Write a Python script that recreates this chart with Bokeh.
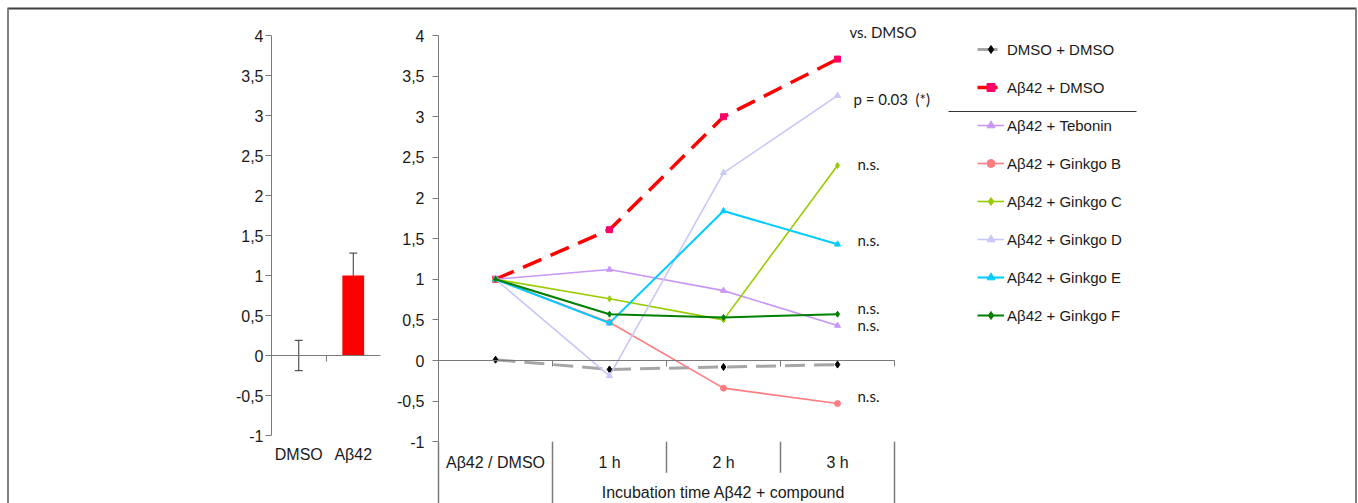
from bokeh.plotting import figure
from bokeh.models import (Range1d, LinearAxis, FixedTicker, CustomJSTickFormatter,
                          ColumnDataSource, Whisker, TeeHead, Legend, LegendItem)
from bokeh.core.properties import value
from bokeh.embed import file_html
from bokeh.resources import INLINE

# ---------------- data ----------------
bar_categories = ["DMSO", "Aβ42"]
bar_values = [0.0, 1.0]
bar_errors = [0.19, 0.28]

time_categories = ["Aβ42 / DMSO", "1 h", "2 h", "3 h"]
time_group_label = "Incubation time Aβ42 + compound"
time_group_span = (1, 4)  # group covers categories 1..3

y_ticks = [-1, -0.5, 0, 0.5, 1, 1.5, 2, 2.5, 3, 3.5, 4]

series_names = ["DMSO + DMSO", "Aβ42 + DMSO", "Aβ42 + Tebonin", "Aβ42 + Ginkgo B",
                "Aβ42 + Ginkgo C", "Aβ42 + Ginkgo D", "Aβ42 + Ginkgo E", "Aβ42 + Ginkgo F"]
dmso_dmso = [0.01, -0.11, -0.08, -0.05]
abeta_dmso = [1.0, 1.61, 3.0, 3.71]
tebonin = [1.0, 1.12, 0.86, 0.43]
ginkgo_b = [1.0, 0.47, -0.34, -0.53]
ginkgo_c = [1.0, 0.76, 0.50, 2.40]
ginkgo_d = [1.0, -0.19, 2.31, 3.26]
ginkgo_e = [1.0, 0.46, 1.84, 1.43]
ginkgo_f = [1.0, 0.57, 0.53, 0.57]
series_values = [dmso_dmso, abeta_dmso, tebonin, ginkgo_b, ginkgo_c, ginkgo_d, ginkgo_e, ginkgo_f]

annot_texts = ["vs. DMSO", "p = 0.03\u00a0\u00a0(*)", "n.s.", "n.s.", "n.s.", "n.s.", "n.s."]
annot_values = [4.04, 3.22, 2.42, 1.48, 0.65, 0.44, -0.44]

# ---------------- styles ----------------
series_styles = [
    dict(color="#A6A6A6", width=3.0, dash="20 9", marker="diamond", msize=7, mcolor="#000000"),
    dict(color="#FF0000", width=3.5, dash="20 10", marker="square", msize=6, mcolor="#FF0066"),
    dict(color="#C896F4", width=1.6, dash="solid", marker="triangle", msize=6, mcolor="#C896F4"),
    dict(color="#FF7C80", width=1.6, dash="solid", marker="circle", msize=6, mcolor="#FF7C80"),
    dict(color="#99CC00", width=1.6, dash="solid", marker="diamond", msize=6, mcolor="#99CC00"),
    dict(color="#C8C8F8", width=1.6, dash="solid", marker="triangle", msize=6, mcolor="#C8C8F8"),
    dict(color="#00CCFF", width=2.0, dash="solid", marker="triangle", msize=6, mcolor="#00CCFF"),
    dict(color="#008000", width=2.0, dash="solid", marker="diamond", msize=6, mcolor="#008000"),
]
annot_offsets = [12, 16, 20, 20, 20, 20, 20]

TXT = "#1a1a1a"
AXC = "#7a7a7a"
FONT = "Liberation Sans"

# ---------------- layout (canvas px; canvas == window) ----------------
W, H = 1358, 503
L_AXIS_X, L_Y4, L_PPU, L_CAT_W = 271, 35, 80.0, 54.5
M_AXIS_X, M_Y4, M_PPU, M_CAT_W = 438, 35, 81.25, 114.0

p = figure(width=W, height=H, x_range=Range1d(0, W), y_range=Range1d(H, 0),
           x_axis_type=None, y_axis_type=None, toolbar_location=None,
           output_backend="svg", min_border=0)
p.outline_line_color = None
p.background_fill_color = "white"
p.border_fill_color = "white"

p.extra_x_ranges = {
    "L": Range1d(-L_AXIS_X / L_CAT_W, (W - L_AXIS_X) / L_CAT_W),
    "M": Range1d(-M_AXIS_X / M_CAT_W, (W - M_AXIS_X) / M_CAT_W),
}
p.extra_y_ranges = {
    "L": Range1d(4 - (H - L_Y4) / L_PPU, 4 + L_Y4 / L_PPU),
    "M": Range1d(4 - (H - M_Y4) / M_PPU, 4 + M_Y4 / M_PPU),
}

# image frame
p.line(x=[7, 1356], y=[8, 8], line_color="#404040", line_width=2)
p.line(x=[7.5, 7.5], y=[8, H + 10], line_color="#808080", line_width=2)
p.line(x=[1355.5, 1355.5], y=[8, H + 10], line_color="#808080", line_width=2)

comma_fmt = CustomJSTickFormatter(code="return tick.toString().replace('.', ',');")


def style_axis(ax, standoff):
    ax.axis_line_color = AXC
    ax.major_tick_line_color = AXC
    ax.minor_tick_line_color = None
    ax.major_tick_in = 0
    ax.major_tick_out = 6
    ax.major_label_standoff = standoff
    ax.major_label_text_font = FONT
    ax.major_label_text_font_size = "16px"
    ax.major_label_text_color = TXT


# ---------------- left bar chart ----------------
bar_x = [i + 0.5 for i in range(len(bar_categories))]
p.vbar(x=bar_x, top=bar_values, bottom=0, width=0.4, fill_color="#FF0000",
       line_color=None, x_range_name="L", y_range_name="L")
err_src = ColumnDataSource(dict(
    x=bar_x,
    upper=[v + e for v, e in zip(bar_values, bar_errors)],
    lower=[v - e for v, e in zip(bar_values, bar_errors)],
))
wh = Whisker(source=err_src, base="x", upper="upper", lower="lower",
             line_color="#333333", line_width=1,
             upper_head=TeeHead(size=8, line_color="#333333", line_width=1),
             lower_head=TeeHead(size=8, line_color="#333333", line_width=1),
             x_range_name="L", y_range_name="L")
p.add_layout(wh)

ly = LinearAxis(x_range_name="L", y_range_name="L", fixed_location=0, bounds=(-1, 4),
                ticker=FixedTicker(ticks=y_ticks), formatter=comma_fmt)
style_axis(ly, 2)
p.add_layout(ly, "left")
lx = LinearAxis(x_range_name="L", y_range_name="L", fixed_location=0,
                bounds=(0, len(bar_categories)),
                ticker=FixedTicker(ticks=list(range(1, len(bar_categories)))))
style_axis(lx, 2)
lx.major_label_text_color = None
p.add_layout(lx, "below")
p.text(x=bar_x, y=[-1] * len(bar_x), text=bar_categories, y_offset=19,
       text_align="center", text_baseline="middle", text_font=value(FONT),
       text_font_size="16px", text_color=TXT, x_range_name="L", y_range_name="L")

# ---------------- main line chart ----------------
n = len(time_categories)
cx = [i + 0.5 for i in range(n)]

my = LinearAxis(x_range_name="M", y_range_name="M", fixed_location=0, bounds=(-1, 4),
                ticker=FixedTicker(ticks=y_ticks), formatter=comma_fmt)
style_axis(my, 8)
p.add_layout(my, "left")
mx = LinearAxis(x_range_name="M", y_range_name="M", fixed_location=0, bounds=(0, n),
                ticker=FixedTicker(ticks=list(range(1, n + 1))))
style_axis(mx, 2)
mx.major_label_text_color = None
p.add_layout(mx, "below")

# category table below the plot
y_bot = p.extra_y_ranges["M"].start
y_short = -1 - 31 / M_PPU
bounds_x = list(range(n + 1))
full = {0, time_group_span[0], time_group_span[1]}
p.segment(x0=bounds_x, y0=[-1] * len(bounds_x), x1=bounds_x,
          y1=[y_bot if b in full else y_short for b in bounds_x],
          line_color=AXC, line_width=1.5, x_range_name="M", y_range_name="M")
p.text(x=cx, y=[-1] * n, text=time_categories, y_offset=21, text_align="center",
       text_baseline="middle", text_font=value(FONT), text_font_size="16px",
       text_color=TXT, x_range_name="M", y_range_name="M")
p.text(x=[(time_group_span[0] + time_group_span[1]) / 2], y=[-1], text=[time_group_label],
       y_offset=51, text_align="center", text_baseline="middle", text_font=value(FONT),
       text_font_size="16px", text_color=TXT, x_range_name="M", y_range_name="M")

items = []
for name, vals, st in zip(series_names, series_values, series_styles):
    lr = p.line(x=cx, y=vals, line_color=st["color"], line_width=st["width"],
                line_dash=st["dash"], x_range_name="M", y_range_name="M")
    sr = p.scatter(x=cx, y=vals, marker=st["marker"], size=st["msize"],
                   fill_color=st["mcolor"], line_color=st["mcolor"],
                   x_range_name="M", y_range_name="M")
    items.append(LegendItem(label=name, renderers=[lr, sr]))

# significance annotations
p.text(x=[cx[-1]] * len(annot_texts), y=annot_values, text=annot_texts,
       x_offset=annot_offsets, text_align="left", text_baseline="middle",
       text_font=value("Lato"), text_font_size="15px", text_color=TXT,
       x_range_name="M", y_range_name="M")

# legend
legend = Legend(items=items, location=(977, 178), orientation="vertical",
                border_line_color=None, background_fill_alpha=0,
                glyph_width=27, glyph_height=20, label_height=20, spacing=18,
                padding=0, margin=0, label_standoff=3,
                label_text_font=FONT, label_text_font_size="15px",
                label_text_color=TXT)
p.add_layout(legend)
# separator between reference series and treatments in legend
p.line(x=[948, 1136], y=[111, 111], line_color="#333333", line_width=1)

open("out.html", "w").write(file_html(p, INLINE))
